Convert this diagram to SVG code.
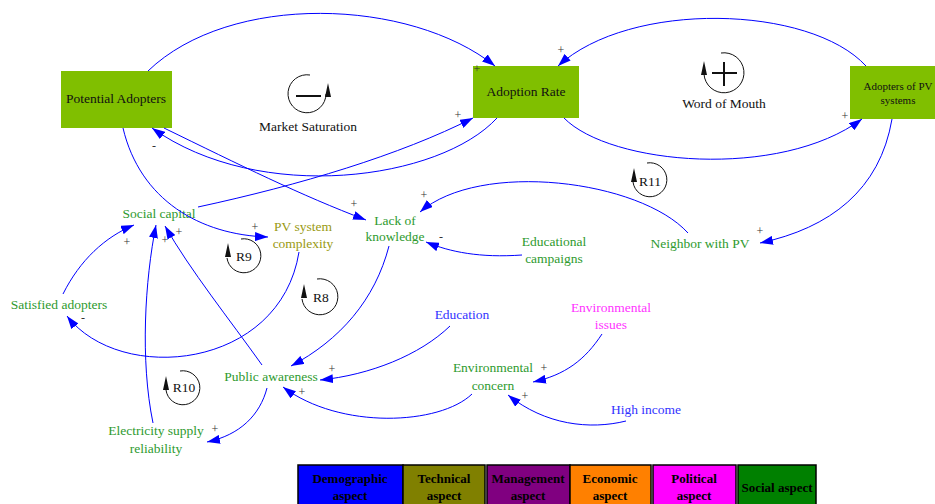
<svg xmlns="http://www.w3.org/2000/svg" width="935" height="504" viewBox="0 0 935 504">
  <defs>
    <marker id="ah" markerUnits="userSpaceOnUse" markerWidth="13" markerHeight="9" viewBox="0 0 13 9" refX="13" refY="4.5" orient="auto">
      <path d="M0,0 L13,4.5 L0,9 Z" fill="#0000FF"/>
    </marker>
    <style>
      .box { fill: #80BF00; }
      .btxt { font-family: "Liberation Serif", "Times New Roman", serif; font-size: 13.5px; fill: #111; text-anchor: middle; }
      .t { font-family: "Liberation Serif", "Times New Roman", serif; font-size: 13.5px; text-anchor: middle; }
      .green { fill: #2E9A2E; }
      .blue { fill: #3333FF; }
      .olive { fill: #999911; }
      .mag { fill: #FF33FF; }
      .blk { fill: #111; }
      .sign { font-family: "Liberation Serif", "Times New Roman", serif; font-size: 12px; fill: #333; text-anchor: middle; }
      .link { fill: none; stroke: #0000FF; stroke-width: 1; marker-end: url(#ah); }
      .loop { fill: none; stroke: #111; stroke-width: 1; }
      .loopbar { stroke: #111; stroke-width: 2; }
      .lg { stroke: #000; stroke-width: 1.5; }
      .lgt { font-family: "Liberation Serif", "Times New Roman", serif; font-size: 13px; font-weight: bold; fill: #000; text-anchor: middle; }
    </style>
  </defs>

  <!-- stock / rate boxes -->
  <g id="potential-adopters">
    <rect class="box" x="61" y="71" width="111" height="57"/>
    <text class="btxt" x="116" y="103">Potential Adopters</text>
  </g>
  <g id="adoption-rate">
    <rect class="box" x="473" y="66" width="106" height="52"/>
    <text class="btxt" x="526" y="96">Adoption Rate</text>
  </g>
  <g id="adopters-of-pv">
    <rect class="box" x="850" y="66" width="96" height="53"/>
    <text class="btxt" x="898" y="90" style="font-size:11px">Adopters of PV</text>
    <text class="btxt" x="898" y="104" style="font-size:11px">systems</text>
  </g>

  <!-- auxiliary variables -->
  <g id="social-capital"><text class="t green" x="159" y="218">Social capital</text></g>
  <g id="pv-complexity">
    <text class="t olive" x="303" y="231">PV system</text>
    <text class="t olive" x="303" y="248">complexity</text>
  </g>
  <g id="lack-of-knowledge">
    <text class="t green" x="395" y="225">Lack of</text>
    <text class="t green" x="395" y="241">knowledge</text>
  </g>
  <g id="educational-campaigns">
    <text class="t green" x="554" y="246">Educational</text>
    <text class="t green" x="554" y="263">campaigns</text>
  </g>
  <g id="neighbor-with-pv"><text class="t green" x="700" y="248">Neighbor with PV</text></g>
  <g id="satisfied-adopters"><text class="t green" x="59" y="309">Satisfied adopters</text></g>
  <g id="education"><text class="t blue" x="462" y="319">Education</text></g>
  <g id="environmental-issues">
    <text class="t mag" x="611" y="312">Environmental</text>
    <text class="t mag" x="611" y="329">issues</text>
  </g>
  <g id="environmental-concern">
    <text class="t green" x="493" y="372">Environmental</text>
    <text class="t green" x="493" y="390">concern</text>
  </g>
  <g id="high-income"><text class="t blue" x="646" y="414">High income</text></g>
  <g id="public-awareness"><text class="t green" x="271" y="381">Public awareness</text></g>
  <g id="electricity-reliability">
    <text class="t green" x="156" y="435">Electricity supply</text>
    <text class="t green" x="156" y="453">reliability</text>
  </g>

  <!-- feedback loop markers -->
  <g id="loop-market-saturation">
    <path class="loop" d="M310,75 A19,19 0 1 0 326,94"/>
    <path d="M328,83 L331,97 L325,97 Z" fill="#111"/>
    <line class="loopbar" x1="296" y1="96" x2="321" y2="96"/>
    <text class="t blk" x="308" y="131">Market Saturation</text>
  </g>
  <g id="loop-word-of-mouth">
    <path class="loop" d="M721,53 A20,20 0 1 1 704,74"/>
    <path d="M704,61 L707,75 L701,75 Z" fill="#111"/>
    <line class="loopbar" x1="712" y1="73" x2="737" y2="73"/>
    <line class="loopbar" x1="724" y1="62" x2="724" y2="86"/>
    <text class="t blk" x="724" y="108">Word of Mouth</text>
  </g>
  <g id="loop-r11">
    <path class="loop" d="M647,163 A17,17 0 1 1 633,182"/>
    <path d="M634,168 L637,182 L631,182 Z" fill="#111"/>
    <text class="t blk" x="650" y="186">R11</text>
  </g>
  <g id="loop-r9">
    <path class="loop" d="M241,239 A17,17 0 1 1 227,258"/>
    <path d="M228,243 L231,257 L225,257 Z" fill="#111"/>
    <text class="t blk" x="244" y="261">R9</text>
  </g>
  <g id="loop-r8">
    <path class="loop" d="M317,279 A18,18 0 1 1 302,299"/>
    <path d="M304,284 L307,298 L301,298 Z" fill="#111"/>
    <text class="t blk" x="321" y="302">R8</text>
  </g>
  <g id="loop-r10">
    <path class="loop" d="M180,371 A17,17 0 1 1 166,390"/>
    <path d="M166,376 L169,390 L163,390 Z" fill="#111"/>
    <text class="t blk" x="184" y="392">R10</text>
  </g>

  <!-- causal links -->
  <g id="connectors">
    <path class="link" d="M148,71 C230,-8 410,-2 495,66"/>
    <path class="link" d="M866,66 C810,5 630,0 558,66"/>
    <path class="link" d="M564,118 C610,165 780,180 862,119"/>
    <path class="link" d="M497,118 C440,180 260,205 152,128"/>
    <path class="link" d="M198,207 C300,185 400,155 473,118"/>
    <path class="link" d="M164,128 C240,165 300,195 366,220"/>
    <path class="link" d="M123,128 C140,200 200,235 268,237"/>
    <path class="link" d="M688,233 C640,180 480,160 420,212"/>
    <path class="link" d="M522,255 C480,258 450,252 426,242"/>
    <path class="link" d="M892,119 C880,190 830,228 760,243"/>
    <path class="link" d="M389,246 C375,300 340,340 291,366"/>
    <path class="link" d="M450,326 C420,355 370,375 320,380"/>
    <path class="link" d="M472,394 C440,425 340,430 283,387"/>
    <path class="link" d="M602,334 C585,360 565,375 533,382"/>
    <path class="link" d="M626,421 C590,430 545,425 508,395"/>
    <path class="link" d="M299,252 C280,370 120,385 67,316"/>
    <path class="link" d="M63,294 C80,260 105,237 134,225"/>
    <path class="link" d="M153,423 C140,360 145,280 156,225"/>
    <path class="link" d="M262,365 C230,320 190,270 165,226"/>
    <path class="link" d="M267,388 C260,415 240,435 207,442"/>

    <!-- polarity signs -->
    <text class="sign" x="477" y="73">+</text>
    <text class="sign" x="561" y="54">+</text>
    <text class="sign" x="845" y="120">+</text>
    <text class="sign" x="154" y="150">-</text>
    <text class="sign" x="458" y="119">+</text>
    <text class="sign" x="354" y="208">+</text>
    <text class="sign" x="255" y="231">+</text>
    <text class="sign" x="424" y="199">+</text>
    <text class="sign" x="441" y="241">-</text>
    <text class="sign" x="760" y="235">+</text>
    <text class="sign" x="332" y="373">+</text>
    <text class="sign" x="302" y="396">+</text>
    <text class="sign" x="544" y="372">+</text>
    <text class="sign" x="525" y="400">+</text>
    <text class="sign" x="83" y="322">-</text>
    <text class="sign" x="127" y="246">+</text>
    <text class="sign" x="165" y="244">+</text>
    <text class="sign" x="179" y="236">+</text>
    <text class="sign" x="215" y="433">+</text>
  </g>

  <!-- legend -->
  <g id="legend">
    <rect class="lg" x="298" y="465" width="105" height="45" fill="#0000FF"/>
    <rect class="lg" x="403" y="465" width="82" height="45" fill="#808000"/>
    <rect class="lg" x="487" y="465" width="83" height="45" fill="#800080"/>
    <rect class="lg" x="570" y="465" width="81" height="45" fill="#FF8000"/>
    <rect class="lg" x="653" y="465" width="83" height="45" fill="#FF00FF"/>
    <rect class="lg" x="738" y="465" width="78" height="45" fill="#008000"/>
    <text class="lgt" x="350" y="483">Demographic</text>
    <text class="lgt" x="350" y="500">aspect</text>
    <text class="lgt" x="444" y="483">Technical</text>
    <text class="lgt" x="444" y="500">aspect</text>
    <text class="lgt" x="528" y="483">Management</text>
    <text class="lgt" x="528" y="500">aspect</text>
    <text class="lgt" x="610" y="483">Economic</text>
    <text class="lgt" x="610" y="500">aspect</text>
    <text class="lgt" x="694" y="483">Political</text>
    <text class="lgt" x="694" y="500">aspect</text>
    <text class="lgt" x="777" y="492">Social aspect</text>
  </g>
</svg>
